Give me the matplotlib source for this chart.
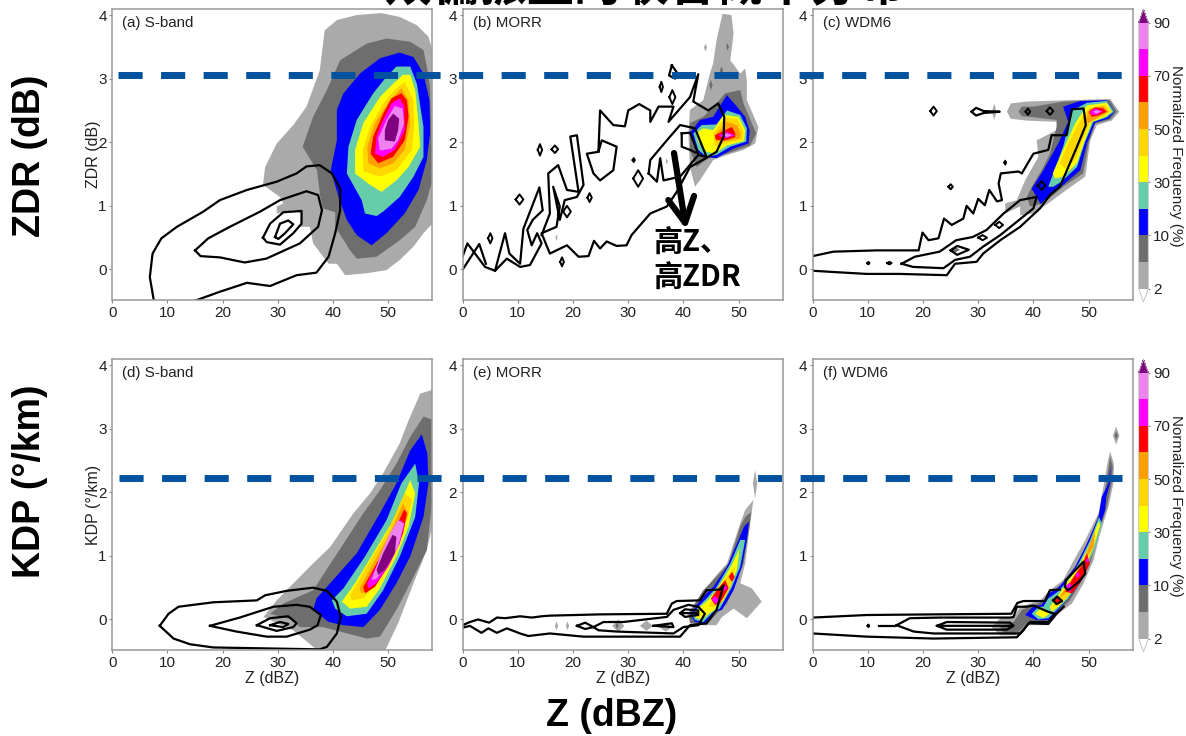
import matplotlib
matplotlib.use('Agg')
import matplotlib.pyplot as plt
from matplotlib.colors import ListedColormap, BoundaryNorm
from matplotlib.cm import ScalarMappable
from matplotlib.lines import Line2D

plt.rcParams['font.family'] = ['Liberation Sans', 'DejaVu Sans']

W, H = 1186, 736

levels = [2, 5, 10, 20, 30, 40, 50, 60, 70, 80, 90]
cbar_ticks = [2, 10, 30, 50, 70, 90]
colors = ['#aaaaaa', '#6e6e6e', '#0000ff', '#66cdaa', '#ffff00', '#ffd700',
          '#ff9f00', '#ff0000', '#ff00ff', '#ee82ee']
over_color = '#800080'
under_color = '#ffffff'

titles = ['(a) S-band', '(b) MORR', '(c) WDM6', '(d) S-band', '(e) MORR', '(f) WDM6']
zdr_threshold = 3.05
kdp_threshold = 2.23

# filled frequency regions: (lower level, outline in dBZ, y units)
a_fills = [
    (2, [(48.8,4.03),(52.1,3.97),(55.2,3.84),(57.3,3.66),(58,3.45),(58,.72),(56.4,.57),(54.6,.36),(52.1,.15),(49.7,-.01),(46.1,-.06),(42.2,-.09),(40.7,.09),(39.2,.09),(36.4,.41),(35.8,.67),(34,.67),(34.3,.88),(32.8,.93),(29.8,.88),(29.8,.99),(31,1.04),(30.4,1.14),(27.3,1.33),(27.7,1.61),(29.8,1.98),(32.8,2.27),(35.2,2.56),(37.6,3.13),(38.5,3.76),(40.7,3.92),(44.3,4.0)]),
    (5, [(54,3.58),(56.4,3.45),(57,3.19),(57.6,2.87),(58,1.61),(58,1.4),(57,1.09),(54.9,.67),(52.1,.46),(47.9,.2),(44.3,.17),(43.1,.3),(40.4,.67),(40.4,.9),(38.2,.96),(37.7,1.14),(37.1,1.56),(34.5,1.93),(36.4,2.4),(38.9,2.82),(41.3,3.29),(46.1,3.55),(49.7,3.63)]),
    (10, [(52.1,3.41),(54.6,3.34),(56.4,3.08),(57.5,2.66),(57.6,2.14),(57,1.72),(55.5,1.25),(53,.88),(49.7,.57),(47,.38),(44.3,.54),(42.5,.78),(41,1.14),(39.6,1.56),(40.7,2.03),(40.7,2.51),(41.9,2.77),(44.9,3.08),(48.5,3.32)]),
    (20, [(51.5,3.19),(54,3.19),(55.2,2.92),(56.4,2.24),(56.4,1.77),(54.6,1.46),(52.1,1.14),(49.1,.91),(47.9,.84),(45.8,.88),(45.2,1.09),(42.5,1.51),(42.8,1.93),(44.3,2.35),(47.3,2.77),(49.7,3.03)]),
    (30, [(52.7,3.06),(54,3.06),(54.9,2.82),(55.5,2.3),(55.8,1.93),(53.7,1.61),(51.5,1.4),(48.8,1.22),(46.7,1.33),(44,1.51),(44,1.88),(45.5,2.3),(48.5,2.71),(50.9,2.92)]),
    (40, [(53,2.95),(54.6,2.66),(54.7,2.24),(54.3,1.88),(51.5,1.56),(48.5,1.46),(45.5,1.54),(45.4,1.88),(46.7,2.24),(49.1,2.61),(51.5,2.85)]),
    (50, [(52.4,2.85),(53.7,2.66),(54,2.3),(53,1.88),(50.9,1.67),(48.5,1.59),(46.4,1.67),(46.2,1.93),(47.6,2.3),(50.3,2.66)]),
    (60, [(52.4,2.77),(53.4,2.66),(53.7,2.4),(53,2.03),(50.9,1.77),(48.2,1.67),(46.8,1.82),(47.3,2.09),(49.1,2.45),(50.6,2.69)]),
    (70, [(52.1,2.69),(52.9,2.56),(53,2.19),(51.2,1.88),(49.1,1.77),(47.6,1.82),(47.9,2.09),(49.1,2.35),(50.6,2.61)]),
    (80, [(51.2,2.57),(52.6,2.53),(52.9,2.3),(51.8,2.03),(50.6,1.9),(48.5,1.87),(48.2,2.06),(49.7,2.35)]),
    (90, [(50.9,2.45),(52,2.37),(51.8,2.19),(51.2,2.01),(49.4,2.03),(49.4,2.19),(50,2.35)]),
]
b_fills = [
    (2, [(47.1,4.02),(48.7,4.0),(49.1,3.71),(48.5,3.29),(50.3,3.08),(51.2,3.16),(51.5,2.98),(51.5,2.66),(53.6,2.24),(53,1.98),(50.9,1.88),(47.9,1.8),(45.4,1.72),(43,1.4),(42.1,1.3),(41.2,1.61),(40.9,2.14),(41.2,2.51),(43.6,2.66),(44.8,3.08),(45.4,3.24),(46,3.6)]),
    (5, [(43.6,2.4),(46,2.61),(47.6,2.77),(50.3,2.82),(50.9,2.61),(52.4,2.3),(53.2,2.14),(52.1,1.95),(47.9,1.82),(44.8,1.77),(42.4,1.61),(41.2,1.88),(41.2,2.3)]),
    (10, [(47.9,2.74),(49.7,2.56),(51.2,2.4),(52,2.19),(51.8,1.98),(49.1,1.9),(46,1.75),(43.6,1.77),(42.1,1.9),(41.3,2.16),(43,2.35),(45.4,2.4),(46.9,2.61)]),
    (20, [(41.8,2.14),(43.3,2.27),(46,2.28),(47.9,2.5),(50.3,2.43),(51.5,2.22),(51.4,2.01),(48.5,1.93),(46,1.8),(44.2,1.77),(42.7,1.88)]),
    (30, [(42.3,2.14),(43.6,2.22),(45.4,2.19),(47.3,2.43),(50,2.4),(51.2,2.19),(51,2.02),(47.9,1.95),(45.7,1.82),(44.2,1.85),(42.7,2.01)]),
    (40, [(45.4,2.14),(47.6,2.39),(49.8,2.36),(50.9,2.16),(50.8,2.04),(47.6,1.98),(45.7,1.93)]),
    (50, [(45.7,2.11),(47.9,2.32),(49.7,2.27),(50.4,2.14),(50.2,2.06),(47.6,2.01),(45.9,2.01)]),
    (60, [(45.7,2.11),(47.6,2.19),(48.8,2.24),(49.4,2.14),(49.4,2.08),(47.6,2.03),(45.9,2.04)]),
    (70, [(46.3,2.11),(47.9,2.16),(49.4,2.11),(47.6,2.06)]),
    (80, [(47,2.11),(47.9,2.14),(48.8,2.11),(47.9,2.08)]),
]
c_fills = [
    (2, [(35.2,2.48),(35.9,2.61),(38.8,2.64),(46,2.66),(53.9,2.68),(55.6,2.48),(54.2,2.34),(51.5,2.27),(50.3,2.03),(49.4,1.46),(46,1.25),(42.7,1.04),(40,.88),(37.6,.85),(37.6,.99),(34.9,.88),(34.9,1.04),(37,1.09),(38.5,1.4),(40.9,1.77),(40.6,2.03),(44.2,2.19),(44.5,2.32),(38.8,2.34),(35.9,2.37)]),
    (5, [(37.3,2.48),(37.9,2.56),(40,2.56),(45.4,2.64),(53.9,2.66),(55.1,2.48),(54,2.36),(51.2,2.29),(50,1.98),(49,1.51),(45.4,1.3),(41.8,1.04),(39.4,.99),(38.8,1.14),(39.7,1.3),(41.5,1.56),(43,1.82),(44.2,2.24),(44.2,2.35),(39.4,2.4),(37.9,2.41)]),
    (10, [(39.7,1.27),(41.8,1.56),(44.5,1.98),(46.3,2.32),(45.4,2.56),(48.5,2.65),(53.3,2.66),(54.7,2.48),(53.6,2.37),(51.2,2.31),(49.7,1.98),(48.5,1.56),(45.4,1.33),(42.4,1.12),(41.3,1.03)]),
    (20, [(42.7,1.3),(45.4,1.93),(47,2.5),(49.7,2.62),(53.3,2.65),(54.6,2.48),(53.3,2.39),(50.9,2.32),(49.4,2.01),(47.9,1.61),(45.1,1.38),(43.6,1.3)]),
    (30, [(43.5,1.51),(45.4,1.88),(47.6,2.3),(49.7,2.58),(53.3,2.62),(54.2,2.48),(53,2.4),(50.6,2.32),(49.1,1.98),(47.9,1.67),(45.4,1.46),(43.9,1.43)]),
    (40, [(44.8,1.67),(46.3,1.98),(48.2,2.3),(50,2.53),(53,2.59),(53.9,2.48),(52.7,2.41),(50.3,2.32),(48.8,2.01),(47.6,1.72),(45.7,1.59)]),
    (50, [(49.4,2.35),(50.3,2.53),(52.7,2.57),(53.6,2.48),(52.1,2.41),(50,2.3)]),
    (60, [(50,2.48),(51.2,2.55),(52.7,2.53),(53.3,2.48),(51.8,2.42),(50.6,2.4)]),
    (70, [(50.2,2.48),(51.2,2.53),(52.6,2.49),(51.5,2.43),(50.6,2.43)]),
    (80, [(50.8,2.48),(51.5,2.51),(52.3,2.48),(51.4,2.45)]),
]
d_fills = [
    (2, [(58,3.61),(55.8,3.55),(53.7,3.13),(52.1,2.77),(49.1,2.3),(46.7,1.98),(43.7,1.67),(39.5,1.14),(35.8,.83),(31.6,.46),(29.8,.3),(27.4,.04),(32.8,-.17),(36.4,-.43),(37.3,-.5),(49.4,-.5),(51.8,-.06),(54.6,.57),(57,1.09),(58,1.46)]),
    (5, [(58,3.14),(56.4,3.19),(54,2.87),(51.5,2.45),(48.5,2.03),(45.5,1.67),(41.9,1.19),(36.4,.46),(31,.25),(28.6,.09),(32.8,-.01),(34,-.12),(38.2,-.12),(46.1,-.3),(48.5,-.27),(51.5,.15),(54.6,.67),(57,1.09),(58,1.88)]),
    (10, [(56.1,2.91),(57.1,2.61),(57.3,2.14),(56.4,1.61),(54,.99),(51.5,.57),(48.5,.15),(45.5,-.12),(41.9,-.09),(39.2,-.04),(36.4,.15),(37,.33),(40,.62),(44.3,1.04),(48.5,1.67),(51.5,2.14),(54,2.66)]),
    (20, [(54.9,2.45),(55.6,2.14),(54.9,1.61),(52.1,.99),(49.1,.46),(46.1,.09),(42.5,.05),(40.4,.17),(39.8,.3),(41.9,.49),(45.8,.99),(49.7,1.56),(52.4,2.14)]),
    (30, [(54,2.19),(54.9,1.98),(53.7,1.46),(51.5,.99),(48.5,.49),(46.1,.2),(43.1,.17),(41.6,.28),(44,.57),(47.3,1.04),(50.9,1.56)]),
    (40, [(53,1.98),(54.4,1.88),(53,1.46),(50.6,.99),(47.9,.57),(45.5,.33),(43.4,.3),(43.1,.38),(46.1,.83),(49.7,1.35)]),
    (50, [(52.7,1.82),(53.7,1.67),(52.1,1.25),(49.7,.83),(47.3,.51),(45.2,.41),(44.8,.49),(47.3,.88),(50.3,1.35)]),
    (60, [(52.9,1.73),(53.4,1.67),(52.7,1.35),(50.3,.88),(47.6,.51),(45.8,.41),(45.5,.51),(47.9,.88),(50.6,1.3)]),
    (70, [(52.1,1.57),(53,1.51),(52.1,1.19),(50,.83),(47.9,.57),(46.4,.49),(46.2,.57),(48.5,.93),(50.9,1.3)]),
    (80, [(51.8,1.56),(52.9,1.51),(51.8,1.14),(50,.88),(47.9,.64),(47,.62),(48.5,.99),(50.3,1.35)]),
    (90, [(50.8,1.33),(51.5,1.3),(51.2,1.04),(49.4,.78),(48.2,.7),(47.9,.78),(49.1,1.04)]),
]
e_fills = [
    (2, [(53,2.35),(53.4,2.14),(53,1.9),(52.6,2.14)]),
    (2, [(52.7,1.88),(52.1,1.51),(51.2,.88),(50.3,.57),(52.4,.49),(54.2,.28),(51.5,.02),(49.1,.17),(47,.04),(46,-.09),(42.4,-.09),(41.2,.04),(42.7,.25),(43.9,.46),(45.7,.67),(47.9,.88),(50.3,1.51),(51.2,1.72)]),
    (5, [(52.3,1.69),(52,1.46),(50.9,.88),(49.7,.62),(47.9,.25),(46,.09),(44.2,-.09),(41.2,-.06),(40.9,.09),(43.6,.46),(46,.67),(48.2,.88),(50.3,1.46),(51.2,1.61)]),
    (10, [(51.9,1.54),(51.5,1.25),(50.6,.83),(49.1,.46),(47,.15),(45.7,.12),(43.9,-.06),(42.1,-.04),(41.3,.07),(42.4,.23),(44.2,.41),(45.4,.51),(47.9,.83),(50,1.25),(51,1.46)]),
    (20, [(51.2,1.25),(50.3,.83),(48.8,.51),(46.6,.17),(45.4,.12),(43.6,-.04),(42.1,-.01),(41.6,.07),(42.7,.2),(44.2,.33),(46,.51),(48.5,.88),(50.3,1.25)]),
    (30, [(50.2,1.12),(49.7,.78),(48.2,.46),(46,.17),(45.1,.12),(43.3,0),(42.3,.02),(42.1,.09),(43,.2),(44.2,.28),(46,.46),(48.6,.83)]),
    (40, [(49.4,.83),(48.8,.57),(47.3,.3),(46,.2),(44.5,.2),(46,.44),(47.9,.67)]),
    (60, [(48.8,.75),(49.3,.67),(48.8,.59),(48.2,.67)]),
    (60, [(47.6,.62),(48.2,.49),(46.6,.25),(45.7,.23),(45,.33),(46.3,.49)]),
    (70, [(47.4,.55),(48,.49),(47.2,.44),(46.8,.49)]),
    (70, [(45.7,.37),(46.5,.31),(45.9,.24),(45.1,.31)]),
]
f_fills = [
    (2, [(53.9,2.64),(54.6,2.45),(54.5,2.14),(53.6,1.77),(52.1,1.35),(50.9,.93),(49.1,.57),(47,.25),(44.2,.07),(42.4,-.09),(38.8,-.09),(37,-.25),(34,-.25),(32.4,-.12),(34,.02),(36.4,.04),(37.6,.2),(41.2,.3),(43,.46),(45.4,.62),(47,.88),(49.4,1.25),(51.8,1.67),(52.8,2.14),(53.4,2.45)]),
    (5, [(53.9,2.56),(54.4,2.4),(54.2,2.14),(53.3,1.77),(51.8,1.35),(50.3,.88),(48.5,.57),(46.6,.3),(44.2,.09),(42.4,-.06),(38.8,-.06),(37,-.22),(34.6,-.22),(34,-.12),(36.4,-.04),(37.9,.15),(41.5,.28),(43.3,.44),(45.7,.59),(47.9,.88),(50.3,1.3),(52.4,1.77),(53.4,2.24)]),
    (10, [(54,2.43),(53.9,2.14),(53.2,1.93),(53,1.72),(51.8,1.4),(50.3,.99),(48.8,.62),(46.6,.36),(44.2,.12),(42.7,-.01),(40.6,-.01),(38.5,.07),(40,.21),(41.5,.23),(42.7,.41),(44.2,.47),(45.7,.62),(47.6,.83),(49.7,1.19),(51.8,1.61),(52.4,1.93),(53.6,2.14)]),
    (20, [(51.9,1.61),(52.4,1.51),(51.2,1.14),(49.7,.83),(48.2,.57),(46.3,.33),(43.9,.12),(42.7,.02),(40.9,0),(39.7,.09),(40.9,.2),(41.8,.2),(42.7,.33),(44.5,.44),(46,.59),(48.2,.88),(50.3,1.25)]),
    (30, [(51.8,1.54),(52.1,1.48),(50.9,1.14),(49.4,.83),(47.9,.57),(46,.33),(44.5,.2),(43.3,.12),(43,.2),(44.5,.38),(46,.57),(48.2,.83),(50.3,1.19)]),
    (30, [(40.3,.09),(41.5,.19),(42.9,.09),(41.8,.02)]),
    (40, [(50.9,1.3),(51.2,1.22),(50,.96),(48.5,.67),(47,.44),(45.4,.28),(43.6,.2),(44.5,.33),(46.6,.57),(48.8,.88)]),
    (50, [(51.2,1.4),(50.9,1.14),(49.7,.99),(48.2,.67),(46.3,.44),(44.5,.33),(45.4,.44),(47.3,.67),(49.1,.93)]),
    (60, [(49.7,1.04),(50.2,.88),(48.8,.62),(47,.41),(45.7,.44),(47.3,.67),(48.8,.85)]),
    (60, [(43.6,.3),(44.3,.35),(45.1,.29),(44.2,.25)]),
    (70, [(49.8,.97),(50.1,.93),(49.8,.89),(49.5,.93)]),
    (70, [(48,.75),(48.4,.7),(48,.65),(47.6,.7)]),
    (70, [(46.5,.58),(47.2,.51),(46.5,.42),(45.7,.51)]),
]

# small isolated spots: level, centre x, centre y, half width, half height
b_spots = [(2,44,3.49,.3,.06), (2,48,3.5,.5,.13), (5,48,3.5,.25,.06), (5,46.9,3.13,.3,.06),
           (5,45,2.9,.3,.08), (2,37,1.7,.2,.05), (2,17,.5,.2,.05)]
c_spots = [(2,32.9,2.48,.4,.13), (5,39,2.48,.5,.06), (5,43,2.49,.6,.06), (5,25.7,.31,1,.05)]
e_spots = [(2,17,-.1,.3,.07), (2,19,-.1,.3,.07), (2,28.2,-.1,1.1,.1), (5,28,-.1,.3,.05),
           (2,33.3,-.1,1.2,.08), (2,36.8,-.12,1.2,.07)]
f_spots = [(2,55,2.89,.6,.14), (5,55,2.89,.3,.07)]

# black contours, closed or open as they appear
a_lines = [
    [(7.55,-.5),(6.8,-.12),(7.3,.25),(8.9,.49),(11.7,.67),(16.5,.91),(19.5,1.09),(24.4,1.25),(29.8,1.38),(33.4,1.51),(35.2,1.62),(37.6,1.64),(39.8,1.51),(41.3,1.27),(41.3,.93),(40.4,.57),(39.2,.2),(37,-.05),(33.4,-.09),(28.6,-.26),(24.4,-.21),(19.5,-.35),(14.7,-.5)],
    [(15,.3),(17.4,.49),(21.3,.67),(26.8,.91),(30.4,1.09),(35.2,1.23),(37.3,1.17),(38,.93),(37.3,.67),(34,.41),(27.9,.17),(24,.11),(19.5,.19),(16,.21),(15,.3)],
    [(27.3,.5),(28.6,.72),(31,.9),(34.3,.92),(34.3,.72),(32.8,.57),(30.4,.39),(28,.43),(27.3,.5)],
    [(29.5,.51),(30.4,.72),(31.9,.77),(32.8,.71),(31.3,.57),(30.1,.48),(29.5,.51)],
]
b_lines = [
    [(0,.21),(.85,.41),(4.05,.04),(5.86,-.02),(7.67,.57),(8.46,.25),(10.4,.09),(11,.64),(13.9,1.29),(14.5,.93),(12.7,.78),(11.7,.62),(12.5,.38),(13.5,.57),(14.3,.41),(12.2,.07),(10.4,.04),(8,.17),(5.86,-.02)],
    [(0,0),(3,.4),(4.2,.09)],
    [(14.3,.54),(15.8,.88),(15.5,1.51),(17.3,1.64),(18.9,1.25),(21,1.22),(19.5,2.09),(20.7,2.11),(21.9,1.33),(20.7,1.14),(18.5,1.09),(17.6,.78),(16.4,1.3),(17.6,.99),(17,.67),(14.3,.57),(15.8,.25),(18.9,.38),(21,.2),(22.8,.21),(23.8,.45),(24.9,.33),(26.1,.44),(27.9,.37),(29.7,.38),(30.6,.54),(34,.88),(37,.99),(38.8,1.22),(41.2,1.61),(44.5,1.77),(46,1.85),(47.3,2.09),(47.4,2.4),(46.3,2.61),(44.5,2.5),(41.8,2.64),(42.1,2.79),(42.7,3.07),(41.2,2.71),(37.3,2.32),(38.2,2.56),(35.5,2.56),(34,2.32),(34,2.5),(32,2.6),(30,2.5),(29.4,2.25),(27.3,2.27),(24.9,2.5),(24.6,1.85),(22.5,1.82),(23.7,1.51),(24.9,1.4),(27.3,1.56),(27.9,1.93),(25.2,2.03),(24.6,1.85)],
    [(33.7,1.51),(34,1.72),(37,2.03),(39.4,2.27),(42.1,2.22),(44.2,1.77),(42.7,1.8),(39.4,1.46),(36.4,1.4),(35.8,1.75),(35.2,1.38),(33.7,1.51)],
    [(39.7,2.14),(41.2,2.15),(42.7,1.82),(41.2,1.88),(39.7,1.93),(39.7,2.14)],
    [(37.9,3.21),(37.4,3.05),(38.5,3.0),(38.8,3.1),(37.9,3.21)],
]
c_lines = [
    [(0,.21),(3.75,.28),(11.6,.3),(19.2,.3),(19.9,.58),(21,.46),(22.8,.49),(23.8,.8),(25.2,.7),(27.3,.8),(27.9,1),(29.1,.88),(30,1.11),(31.2,1.01),(32,1.25),(33.4,1.07),(34.3,1.09),(33.7,1.35),(34.1,1.51),(37.3,1.54),(37.9,1.51),(40,1.82),(42.7,1.88),(43.3,2.11),(46,2.11),(47,2.52),(49.1,2.53),(49.5,2.27),(47.9,1.93),(44.8,1.3),(43,1.17),(41.2,.96),(37.6,.67),(34,.46),(30.9,.25),(29.7,.12),(25.8,.09),(24.3,-.09),(15.8,-.07),(9.8,-.07),(3.75,-.04),(0,-.02)],
    [(16.1,.09),(18.5,.2),(23,.28),(26,.46),(29,.51),(31.5,.62),(34.6,.88),(37.6,1.09),(40.6,1.14),(40,.96),(37,.75),(34,.54),(30.9,.36),(28.5,.2),(25.8,.15),(23.7,.02),(18.2,.04),(16.1,.09)],
    [(25,.3),(26.2,.37),(28.3,.31),(26.2,.23),(25,.3)],
    [(28.8,2.48),(29.6,2.54),(31,2.49),(33.9,2.48),(31,2.46),(29.6,2.42),(28.8,2.48)],
]
d_lines = [
    [(8.6,-.1),(10.2,.09),(12,.2),(18.3,.27),(26.2,.3),(27.7,.38),(31.6,.45),(36.4,.5),(38.9,.45),(40.7,.28),(41.4,.04),(40.7,-.22),(38.9,-.43),(37.6,-.47),(18.3,-.44),(14.1,-.39),(11.1,-.3),(8.6,-.1)],
    [(17.7,-.1),(23.1,.03),(27.4,.15),(29.2,.2),(33.4,.23),(35.8,.2),(37.8,.07),(37.2,-.09),(35.8,-.16),(31.6,-.27),(28,-.27),(22.5,-.19),(17.7,-.1)],
    [(26.2,-.09),(28.6,.02),(31.9,.05),(33.4,-.06),(32.8,-.12),(29.8,-.18),(26.2,-.09)],
    [(28.6,-.09),(30.4,-.04),(31.9,-.07),(31,-.12),(28.6,-.09)],
]
e_lines = [
    [(0,-.09),(1.3,-.04),(2.8,0),(4.8,-.05),(6.2,.03),(7.7,.02),(10.4,.05),(12.5,.03),(14.3,.05),(15.8,.06),(24.9,.08),(37,.09),(37.9,.25),(38.8,.29),(43,.3),(44.2,.46),(46.6,.47),(47.3,.54),(46,.15),(44.2,-.06),(41.2,-.09),(39.4,-.27),(21.9,-.27),(15.8,-.22),(11.9,-.26),(10.4,-.22),(8,-.14),(6.2,-.21),(4.65,-.14),(3.4,-.21),(1.3,-.1),(0,-.13)],
    [(20.7,-.1),(22.2,-.05),(23.7,-.12),(25.5,-.04),(29.1,-.04),(37,.04),(38.2,.15),(40.9,.23),(42.7,.2),(43.9,.09),(42.7,-.09),(40,-.12),(38.2,-.22),(27.9,-.19),(24.6,-.17),(23.7,-.12),(22.2,-.15),(20.7,-.1)],
    [(39.4,.1),(40.3,.16),(42.7,.14),(42.7,.07),(40.3,.04),(39.4,.1),(42.4,.1)],
    [(34.6,-.1),(37.9,-.06),(38.2,-.12),(34.6,-.1)],
]
f_lines = [
    [(0,.03),(9.8,.07),(21.9,.08),(36,.09),(37.1,.26),(38.2,.29),(42.1,.29),(43,.46),(44.8,.47)],
    [(0,-.22),(9.8,-.27),(21.9,-.3),(37,-.28),(38.2,-.17),(39.1,-.06),(42.7,-.07),(44.2,.09),(45.5,.2)],
    [(15.2,-.09),(17.6,.02),(23.1,.03),(35.8,.03),(36.4,.04),(37,.2),(38.8,.2),(40,.22),(42.7,.12),(43.9,.09),(42.7,-.04),(39.4,-.04),(37.6,-.22),(21.9,-.22),(18.3,-.19),(15.2,-.09)],
    [(22.5,-.1),(24.3,-.04),(35.8,-.05),(36.4,-.1),(35.2,-.16),(24.3,-.16),(22.5,-.1),(36,-.1)],
    [(45.9,.62),(49.1,.91),(49.4,.72),(48.2,.59),(46.3,.46),(45.7,.51),(45.9,.62)],
    [(43.6,.3),(44.3,.36),(45.2,.29),(44.2,.24),(43.6,.3)],
    [(12,-.1),(14.9,-.1)],
]

# small black diamond contours: centre x, centre y, half width, half height
b_loops = [(14,1.88,.4,.09), (16.7,1.89,.6,.06), (10.3,1.1,.7,.08), (5,.49,.4,.08), (23,1.13,.4,.07),
           (18,.12,.35,.07), (18.9,.91,.7,.09), (31,1.72,.2,.03), (31.8,1.43,.9,.13), (36,2.87,.3,.08),
           (38,2.71,.55,.11)]
c_loops = [(21.9,2.49,.6,.07), (25,1.3,.4,.04), (34.9,1.68,.15,.03), (10.1,.1,.2,.02), (13.9,.1,.4,.02),
           (30.8,.5,.8,.04), (33.8,.7,.7,.05), (39,2.48,.4,.05), (43,2.49,.6,.06), (41.5,1.32,.7,.07)]
f_loops = [(10.1,-.1,.15,.02)]

panels = [(a_fills, [], a_lines, []), (b_fills, b_spots, b_lines, b_loops),
          (c_fills, c_spots, c_lines, c_loops), (d_fills, [], d_lines, []),
          (e_fills, e_spots, e_lines, []), (f_fills, f_spots, f_lines, f_loops)]

cmap = ListedColormap(colors)
cmap.set_over(over_color)
cmap.set_under(under_color)
norm = BoundaryNorm(levels, len(colors))

fig = plt.figure(figsize=(W/100, H/100), dpi=100)


def px_axes(left, top, right, bottom):
    return fig.add_axes([left/W, 1-bottom/H, (right-left)/W, (bottom-top)/H])


lefts = [112.3, 462.7, 812.7]
tops = [9.3, 359.3]
axes = []
for r in range(2):
    for c in range(3):
        axes.append(px_axes(lefts[c], tops[r], lefts[c]+320, tops[r]+290.7))

for i, ax in enumerate(axes):
    fills, spots, lines, loops = panels[i]
    for lev, pts in fills:
        ax.fill([p[0] for p in pts], [p[1] for p in pts], color=cmap(norm(lev+.5)), lw=0)
    for lev, x, y, dx, dy in spots:
        ax.fill([x-dx, x, x+dx, x], [y, y+dy, y, y-dy], color=cmap(norm(lev+.5)), lw=0)
    for pts in lines:
        ax.plot([p[0] for p in pts], [p[1] for p in pts], color='black', lw=1.6, solid_joinstyle='round')
    for x, y, dx, dy in loops:
        ax.plot([x-dx, x, x+dx, x, x-dx], [y, y+dy, y, y-dy, y], color='black', lw=1.4)
    ax.set_xlim(0, 58)
    ax.set_ylim(-0.48, 4.09)
    ax.set_xticks([0, 10, 20, 30, 40, 50])
    ax.set_yticks([0, 1, 2, 3, 4])
    ax.tick_params(labelsize=11, length=2, width=.8, color='#888888', labelcolor='#222222', pad=2)
    for s in ax.spines.values():
        s.set_color('#999999')
        s.set_linewidth(1.1)
    ax.text(1.8, 3.88, titles[i], fontsize=10.9, color='#222222', va='center')
    if i >= 3:
        ax.set_xlabel('Z (dBZ)', fontsize=11.5, color='#222222', labelpad=1)

axes[0].set_ylabel('ZDR (dB)', fontsize=11.5, color='#222222', labelpad=-2)
axes[3].set_ylabel('KDP (°/km)', fontsize=11.5, color='#222222', labelpad=-2)

for top in [9.3, 359.3]:
    # the triangles are drawn inside this box
    cax = px_axes(1138.7, top, 1148.3, top+292.7)
    cb = fig.colorbar(ScalarMappable(norm=norm, cmap=cmap), cax=cax, extend='both',
                      spacing='uniform', extendfrac=.05, ticks=cbar_ticks)
    cb.minorticks_off()
    cb.outline.set_edgecolor('#bbbbbb')
    cb.outline.set_linewidth(.6)
    cb.dividers.set_visible(False)
    cax.tick_params(labelsize=11, length=1.5, width=.8, color='#888888', labelcolor='#222222', pad=2)
    fig.text(1176/W, 1-(top+147)/H, 'Normalized Frequency (%)', rotation=270, fontsize=11,
             color='#222222', ha='center', va='center')

# thresholds run across the whole row
for ax, yval, x0 in [(axes[0], zdr_threshold, 1), (axes[3], kdp_threshold, 1.25)]:
    fig.add_artist(Line2D([x0, 183], [yval, yval], transform=ax.transData, color='#00529f',
                          lw=5, linestyle=(0, (3.47, 2.66)), zorder=5))

axes[1].annotate('', xy=(40.5, .63), xytext=(38.3, 1.83),
                 arrowprops=dict(arrowstyle='->,head_length=.9,head_width=.47', lw=4.5, color='black',
                                 shrinkA=0, shrinkB=0, mutation_scale=20))
cjk = ['Noto Sans CJK SC', 'DejaVu Sans']
fig.text(653/W, 1-243/H, '高Z、', family=cjk, fontsize=21, fontweight='bold', color='black', va='center', zorder=6)
fig.text(653/W, 1-278/H, '高ZDR', family=cjk, fontsize=21, fontweight='bold', color='black', va='center', zorder=6)

fig.text(30/W, 1-156/H, 'ZDR (dB)', rotation=90, fontsize=27, fontweight='bold', ha='center', va='center')
fig.text(30/W, 1-481/H, 'KDP (°/km)', rotation=90, fontsize=27, fontweight='bold', ha='center', va='center')
fig.text(612/W, 1-716/H, 'Z (dBZ)', fontsize=27, fontweight='bold', ha='center', va='center')
fig.text(645/W, 1-1/H, '双偏振量的联合概率分布', family=cjk, fontsize=34, fontweight='bold',
         ha='center', va='baseline')

fig.savefig('out.png', dpi=100)
